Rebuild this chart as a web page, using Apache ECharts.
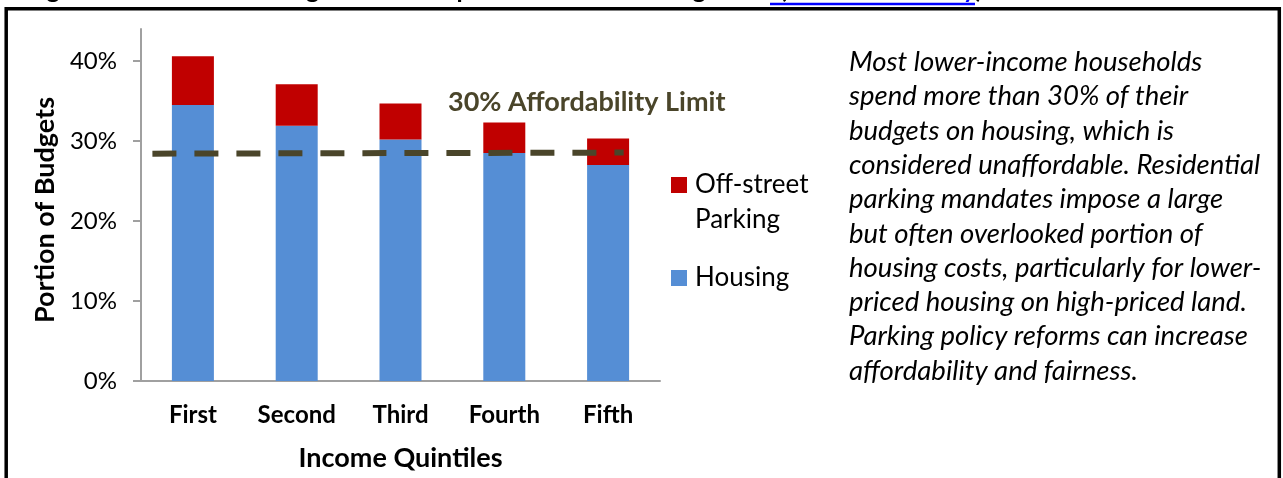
<!DOCTYPE html>
<html>
<head>
<meta charset="utf-8">
<script src="https://cdn.jsdelivr.net/npm/echarts@6/dist/echarts.min.js"></script>
<style>
  html, body { margin: 0; padding: 0; background: #fff; }
  #chart { width: 1283px; height: 478px; }
</style>
</head>
<body>
<div id="chart"></div>
<script>
// values (percent of budget)
const quintiles = ['First', 'Second', 'Third', 'Fourth', 'Fifth'];
const housing = [34.5, 31.9, 30.2, 28.5, 27.0];
const parking = [6.1, 5.2, 4.5, 3.8, 3.3];
// the dashed "limit" line, in [quintile position, percent]
const limitLine = [[0.11, 28.42], [4.65, 28.55]];
const yTicks = [0, 10, 20, 30, 40];
const noteLines = [
  'Most lower-income households',
  'spend more than 30% of their',
  'budgets on housing, which is',
  'considered unaffordable. Residential',
  'parking mandates impose a large',
  'but often overlooked portion of',
  'housing costs, particularly for lower-',
  'priced housing on high-priced land.',
  'Parking policy reforms can increase',
  'affordability and fairness.'
];

const FONT = 'Lato, "Open Sans", sans-serif';
const axisGray = '#a0a0a0';

const chart = echarts.init(document.getElementById('chart'));

const option = {
  animation: false,
  backgroundColor: '#fff',
  textStyle: { fontFamily: FONT, color: '#000' },
  grid: { left: 141, right: 623, top: 29, bottom: 97 },
  xAxis: [{
    type: 'category',
    data: quintiles,
    boundaryGap: true,
    name: 'Income Quintiles',
    nameLocation: 'middle',
    nameGap: 64,
    nameTextStyle: { fontFamily: FONT, fontSize: 27, fontWeight: 'bold', color: '#000' },
    axisLine: { lineStyle: { color: axisGray, width: 2 } },
    axisTick: { interval: 0, length: 8, lineStyle: { color: axisGray, width: 2 } },
    axisLabel: { margin: 22, fontFamily: FONT, fontSize: 24, fontWeight: 'bold', color: '#000' }
  }, {
    type: 'value',
    min: 0,
    max: 5,
    show: false
  }],
  yAxis: {
    type: 'value',
    min: 0,
    max: 44,
    interval: 10,
    name: 'Portion of Budgets',
    nameLocation: 'middle',
    nameGap: 82,
    nameRotate: 90,
    nameTextStyle: { fontFamily: FONT, fontSize: 27, fontWeight: 'bold', color: '#000', padding: [0, 10, 0, 0] },
    splitLine: { show: false },
    axisLine: { show: true, lineStyle: { color: axisGray, width: 2 } },
    axisTick: { show: true, length: 8, customValues: yTicks, lineStyle: { color: axisGray, width: 2 } },
    axisLabel: {
      margin: 24, fontFamily: FONT, fontSize: 24, color: '#000',
      customValues: yTicks,
      formatter: v => v + '%'
    }
  },
  legend: [{
    data: ['Off-street Parking'],
    // blank first line keeps the square level with "Off-street"
    formatter: () => ' \nOff-street\nParking',
    left: 671, top: 132.5, padding: 0,
    itemWidth: 16, itemHeight: 16,
    icon: 'rect', selectedMode: false,
    textStyle: { fontFamily: FONT, fontSize: 26, lineHeight: 35, color: '#000', padding: [0, 0, 0, 3] }
  }, {
    data: ['Housing'],
    left: 671, top: 260.5, padding: 0,
    itemWidth: 16, itemHeight: 16,
    icon: 'rect', selectedMode: false,
    textStyle: { fontFamily: FONT, fontSize: 26, lineHeight: 35, color: '#000', padding: [0, 0, 0, 3] }
  }],
  series: [{
    name: 'Housing',
    type: 'bar',
    stack: 'cost',
    data: housing,
    barWidth: 42,
    itemStyle: { color: '#558ed5' }
  }, {
    name: 'Off-street Parking',
    type: 'bar',
    stack: 'cost',
    data: parking,
    barWidth: 42,
    itemStyle: { color: '#c00000' }
  }, {
    name: 'limit',
    type: 'line',
    xAxisIndex: 1,
    data: limitLine,
    symbol: 'none',
    silent: true,
    lineStyle: { color: '#4a452a', width: 6, type: [24, 18], cap: 'butt' },
    z: 5
  }],
  graphic: [{
    type: 'rect',
    shape: { x: 6.2, y: 8.8, width: 1273.1, height: 540 },
    style: { fill: null, stroke: '#000', lineWidth: 3.5 },
    silent: true
  }, {
    type: 'text',
    left: 448, top: 89,
    style: {
      text: '30% Affordability Limit',
      font: 'bold 27px ' + FONT,
      fill: '#4a452a'
    }
  }, {
    type: 'text',
    left: 849, top: 45,
    style: {
      text: noteLines.join('\n'),
      font: 'italic 27.5px ' + FONT,
      lineHeight: 34.3,
      fill: '#000'
    }
  }, {
    type: 'text',
    x: 26, y: -10,
    style: {
      text: '{t|Figure 3   Household Budgets for Transportation and Housing Costs (}{a|BLS 2019 Survey}{t|)}',
      verticalAlign: 'middle',
      rich: {
        t: { font: 'bold 25px ' + FONT, fill: '#000' },
        a: { font: 'bold 25px ' + FONT, fill: '#0000ff' }
      }
    }
  }, {
    type: 'line',
    shape: { x1: 770, y1: 4, x2: 975, y2: 4 },
    style: { stroke: '#0000ff', lineWidth: 2.5 },
    silent: true
  }]
};

chart.setOption(option);
</script>
</body>
</html>
